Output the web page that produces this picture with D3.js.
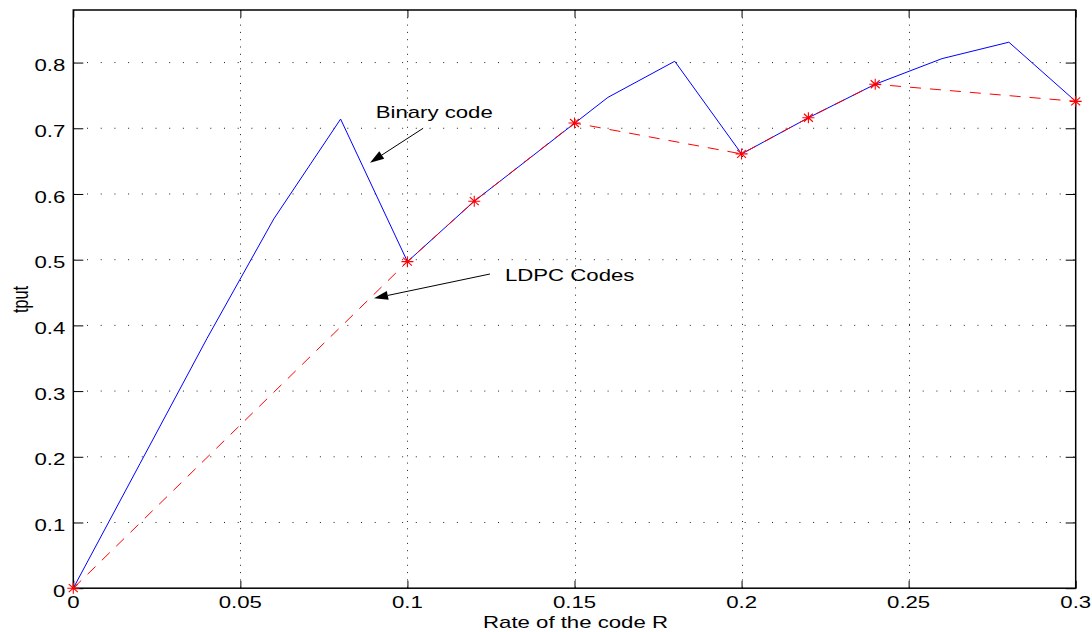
<!DOCTYPE html>
<html>
<head>
<meta charset="utf-8">
<script src="https://cdn.jsdelivr.net/npm/d3@7"></script>
<style>
  body { margin: 0; background: #fff; }
  text { font-family: "Liberation Sans", Arial, Helvetica, sans-serif; }
</style>
</head>
<body>
<script>
// values
const xTicks = [0, 0.05, 0.1, 0.15, 0.2, 0.25, 0.3];
const yTicks = [0, 0.1, 0.2, 0.3, 0.4, 0.5, 0.6, 0.7, 0.8];

const binaryR    = [0, 0.02, 0.04, 0.06, 0.08, 0.10, 0.12, 0.14, 0.16, 0.18, 0.20, 0.22, 0.24, 0.26, 0.28, 0.30];
const binaryTput = [0, 0.19, 0.38, 0.562, 0.714, 0.497, 0.589, 0.668, 0.747, 0.802, 0.661, 0.716, 0.767, 0.806, 0.831, 0.741];

const ldpcR    = [0, 0.10, 0.12, 0.15, 0.20, 0.22, 0.24, 0.30];
const ldpcTput = [0, 0.497, 0.589, 0.708, 0.661, 0.716, 0.767, 0.741];

const width = 1092, height = 632;
const margin = {top: 10, right: 16.3, bottom: 43.8, left: 73.3};
const stretch = 1.37;   // the text in the picture is widened
const fs = 16.2;

const svg = d3.select("body").append("svg")
  .attr("width", width)
  .attr("height", height);

const x = d3.scaleLinear().domain([0, 0.3]).range([margin.left, width - margin.right]);
const y = d3.scaleLinear().domain([0, 0.88]).range([height - margin.bottom, margin.top]);

// dotted grid
svg.append("g").selectAll("line").data(yTicks.slice(1)).join("line")
  .attr("x1", x(0)).attr("x2", x(0.3))
  .attr("y1", d => y(d)).attr("y2", d => y(d))
  .attr("stroke", "#222").attr("stroke-width", 1)
  .attr("stroke-dasharray", "1,12.7");

svg.append("g").selectAll("line").data(xTicks.slice(1, -1)).join("line")
  .attr("x1", d => Math.round(x(d)) + 0.5).attr("x2", d => Math.round(x(d)) + 0.5)
  .attr("y1", y(0.88)).attr("y2", y(0))
  .attr("stroke", "#222").attr("stroke-width", 1)
  .attr("stroke-dasharray", "1,6.3");

// inward ticks on all four sides
const tx = 7.5, ty = 10;
const axB = svg.append("g").attr("transform", `translate(0,${y(0)})`)
  .call(d3.axisBottom(x).tickValues(xTicks).tickSize(-tx).tickFormat(""));
const axT = svg.append("g").attr("transform", `translate(0,${y(0.88)})`)
  .call(d3.axisTop(x).tickValues(xTicks).tickSize(-tx).tickFormat(""));
const axL = svg.append("g").attr("transform", `translate(${x(0)},0)`)
  .call(d3.axisLeft(y).tickValues(yTicks).tickSize(-ty).tickFormat(""));
const axR = svg.append("g").attr("transform", `translate(${x(0.3)},0)`)
  .call(d3.axisRight(y).tickValues(yTicks).tickSize(-ty).tickFormat(""));
[axB, axT, axL, axR].forEach(a => {
  a.select(".domain").remove();
  a.selectAll("line").attr("stroke", "#000");
});

// box
svg.append("rect")
  .attr("x", x(0)).attr("y", y(0.88))
  .attr("width", x(0.3) - x(0)).attr("height", y(0) - y(0.88))
  .attr("fill", "none").attr("stroke", "#000").attr("stroke-width", 1.5);

// tick labels
svg.append("g").selectAll("text").data(xTicks).join("text")
  .attr("transform", d => `translate(${x(d)},${y(0) + 19.9}) scale(${stretch},1)`)
  .attr("text-anchor", "middle")
  .attr("font-size", fs)
  .text(d => String(d));

svg.append("g").selectAll("text").data(yTicks).join("text")
  .attr("transform", d => `translate(${x(0) - 8},${y(d) + 8.7}) scale(${stretch},1)`)
  .attr("text-anchor", "end")
  .attr("font-size", fs)
  .text(d => String(d));

// axis titles
svg.append("text")
  .attr("transform", `translate(${(x(0) + x(0.3)) / 2 + 1},${y(0) + 39.3}) scale(${stretch},1)`)
  .attr("text-anchor", "middle")
  .attr("font-size", fs)
  .text("Rate of the code R");

svg.append("text")
  .attr("transform", `translate(27.5,${(y(0) + y(0.88)) / 2 + 0.5}) rotate(-90) scale(1,${stretch})`)
  .attr("text-anchor", "middle")
  .attr("font-size", fs)
  .text("tput");

// lines
const line = d3.line().x(d => x(d[0])).y(d => y(d[1]));
const binary = binaryR.map((r, i) => [r, binaryTput[i]]);
const ldpc = ldpcR.map((r, i) => [r, ldpcTput[i]]);

svg.append("path")
  .attr("d", line(binary))
  .attr("fill", "none").attr("stroke", "#0000ff").attr("stroke-width", 1);

svg.append("path")
  .attr("d", line(ldpc))
  .attr("fill", "none").attr("stroke", "#ff0000").attr("stroke-width", 1)
  .attr("stroke-dasharray", "11,9");

svg.append("g").selectAll("path").data(ldpc).join("path")
  .attr("transform", d => `translate(${x(d[0])},${y(d[1])})`)
  .attr("d", "M-6,0H6M0,-5.5V5.5M-4.5,-4L4.5,4M-4.5,4L4.5,-4")
  .attr("fill", "none").attr("stroke", "#ff0000").attr("stroke-width", 1.1);

// annotations
function arrow(x1, y1, x2, y2) {
  const px1 = x(x1), py1 = y(y1), px2 = x(x2), py2 = y(y2);
  const a = Math.atan2(py2 - py1, px2 - px1);
  const len = 14, hw = 4.5;
  const bx = px2 - len * Math.cos(a), by = py2 - len * Math.sin(a);
  svg.append("line")
    .attr("x1", px1).attr("y1", py1).attr("x2", bx).attr("y2", by)
    .attr("stroke", "#000").attr("stroke-width", 1);
  svg.append("path")
    .attr("d", `M${px2},${py2}L${bx - hw * Math.sin(a)},${by + hw * Math.cos(a)}L${bx + hw * Math.sin(a)},${by - hw * Math.cos(a)}Z`)
    .attr("fill", "#000");
}

svg.append("text")
  .attr("transform", `translate(${x(0.0905)},${y(0.7157)}) scale(${stretch},1)`)
  .attr("font-size", fs)
  .text("Binary code");
arrow(0.1047, 0.700, 0.0888, 0.6476);

svg.append("text")
  .attr("transform", `translate(${x(0.1292)},${y(0.468)}) scale(${stretch},1)`)
  .attr("font-size", fs)
  .text("LDPC Codes");
arrow(0.1247, 0.4782, 0.0900, 0.4412);
</script>
</body>
</html>
